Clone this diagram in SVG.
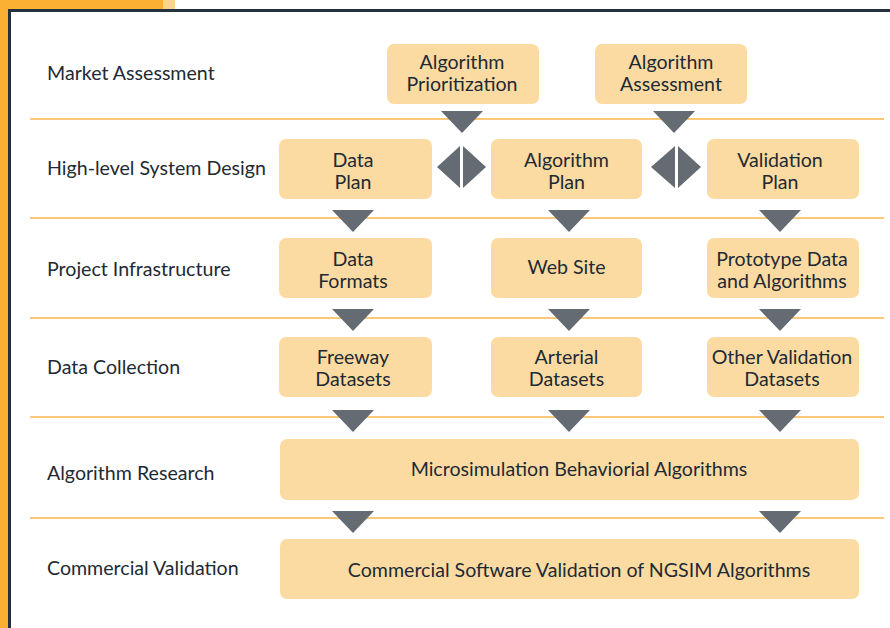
<svg xmlns="http://www.w3.org/2000/svg" width="890" height="628" viewBox="0 0 890 628">
<style>
.bg{fill:#ffffff}
.box{fill:#fcdba3}
.lbl{font-family:Lato,"Liberation Sans",sans-serif;font-size:19.6px;fill:#1e2a33}
.t{font-family:Lato,"Liberation Sans",sans-serif;font-size:19.6px;fill:#1e2a33;text-anchor:middle}
.sep{stroke:#f9b649;stroke-width:1.6}
.arr{fill:#646b73}
</style>
<rect class="bg" x="0" y="0" width="890" height="628"/>
<g id="frame">
<rect x="0" y="0" width="163" height="9" fill="#fbb034"/>
<rect x="163" y="0" width="12" height="9" fill="#fdd48f"/>
<rect x="0" y="0" width="8" height="628" fill="#fbb034"/>
<rect x="8" y="9" width="882" height="3" fill="#24313f"/>
<rect x="8" y="9" width="3" height="619" fill="#24313f"/>
</g>
<g id="separators">
<line class="sep" x1="30" y1="119" x2="884" y2="119"/>
<line class="sep" x1="30" y1="218" x2="884" y2="218"/>
<line class="sep" x1="30" y1="318" x2="884" y2="318"/>
<line class="sep" x1="30" y1="417" x2="884" y2="417"/>
<line class="sep" x1="30" y1="518" x2="884" y2="518"/>
</g>
<g id="row-labels">
<text class="lbl" x="47" y="80">Market Assessment</text>
<text class="lbl" x="47" y="175">High-level System Design</text>
<text class="lbl" x="47" y="276">Project Infrastructure</text>
<text class="lbl" x="47" y="374">Data Collection</text>
<text class="lbl" x="47" y="480">Algorithm Research</text>
<text class="lbl" x="47" y="575">Commercial Validation</text>
</g>
<g id="node-alg-prioritization">
<rect class="box" x="387" y="44" width="152" height="60" rx="7"/>
<text class="t" x="462" y="69">Algorithm</text>
<text class="t" x="462" y="91">Prioritization</text>
</g>
<g id="node-alg-assessment">
<rect class="box" x="595" y="44" width="152" height="60" rx="7"/>
<text class="t" x="671" y="69">Algorithm</text>
<text class="t" x="671" y="91">Assessment</text>
</g>
<g id="node-data-plan">
<rect class="box" x="279" y="139" width="153" height="60" rx="7"/>
<text class="t" x="353" y="167">Data</text>
<text class="t" x="353" y="189">Plan</text>
</g>
<g id="node-algorithm-plan">
<rect class="box" x="491" y="139" width="151" height="60" rx="7"/>
<text class="t" x="566.5" y="167">Algorithm</text>
<text class="t" x="566.5" y="189">Plan</text>
</g>
<g id="node-validation-plan">
<rect class="box" x="707" y="139" width="152" height="60" rx="7"/>
<text class="t" x="780" y="167">Validation</text>
<text class="t" x="780" y="189">Plan</text>
</g>
<g id="node-data-formats">
<rect class="box" x="279" y="238" width="153" height="60" rx="7"/>
<text class="t" x="353" y="266">Data</text>
<text class="t" x="353" y="288">Formats</text>
</g>
<g id="node-web-site">
<rect class="box" x="491" y="238" width="151" height="60" rx="7"/>
<text class="t" x="566.5" y="274">Web Site</text>
</g>
<g id="node-prototype">
<rect class="box" x="707" y="238" width="152" height="60" rx="7"/>
<text class="t" x="782" y="266">Prototype Data</text>
<text class="t" x="782" y="288">and Algorithms</text>
</g>
<g id="node-freeway">
<rect class="box" x="279" y="337" width="153" height="60" rx="7"/>
<text class="t" x="353" y="364">Freeway</text>
<text class="t" x="353" y="386">Datasets</text>
</g>
<g id="node-arterial">
<rect class="box" x="491" y="337" width="151" height="60" rx="7"/>
<text class="t" x="566.5" y="364">Arterial</text>
<text class="t" x="566.5" y="386">Datasets</text>
</g>
<g id="node-other-validation">
<rect class="box" x="707" y="337" width="152" height="60" rx="7"/>
<text class="t" x="782" y="364">Other Validation</text>
<text class="t" x="782" y="386">Datasets</text>
</g>
<g id="node-microsimulation">
<rect class="box" x="280" y="439" width="579" height="61" rx="7"/>
<text class="t" x="579" y="476">Microsimulation Behaviorial Algorithms</text>
</g>
<g id="node-commercial-software">
<rect class="box" x="280" y="539" width="579" height="60" rx="7"/>
<text class="t" x="579" y="577">Commercial Software Validation of NGSIM Algorithms</text>
</g>
<g id="connectors">
<polygon class="arr" points="441,111 483,111 462,133"/>
<polygon class="arr" points="653,111 695,111 674,133"/>
<polygon class="arr" points="437,167 460,146 460,188"/>
<polygon class="arr" points="486,167 463,146 463,188"/>
<polygon class="arr" points="651,167 675,146 675,188"/>
<polygon class="arr" points="701,167 678,146 678,188"/>
<polygon class="arr" points="332,210 374,210 353,232"/>
<polygon class="arr" points="548,210 590,210 569,232"/>
<polygon class="arr" points="759,210 801,210 780,232"/>
<polygon class="arr" points="332,309 374,309 353,331"/>
<polygon class="arr" points="548,309 590,309 569,331"/>
<polygon class="arr" points="759,309 801,309 780,331"/>
<polygon class="arr" points="332,410 374,410 353,432"/>
<polygon class="arr" points="548,410 590,410 569,432"/>
<polygon class="arr" points="759,410 801,410 780,432"/>
<polygon class="arr" points="332,511 374,511 353,533"/>
<polygon class="arr" points="759,511 801,511 780,533"/>
</g>
</svg>
